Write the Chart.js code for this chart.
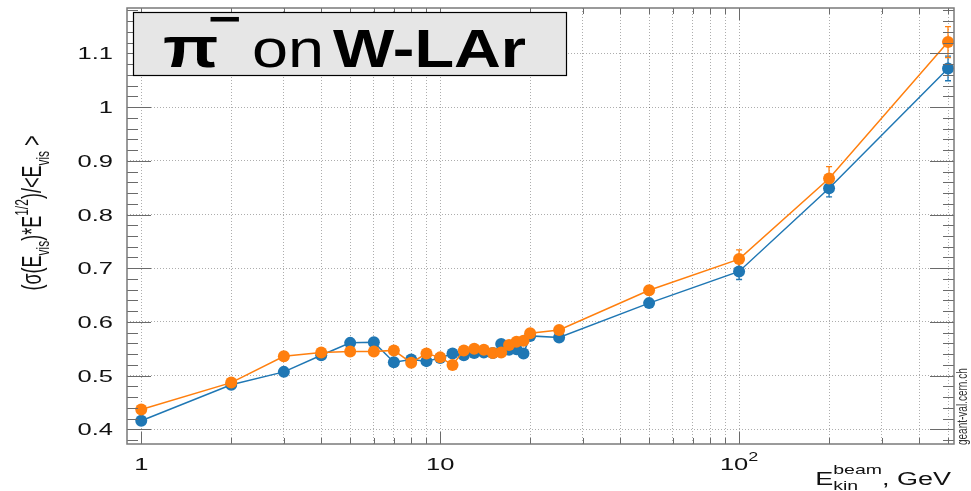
<!DOCTYPE html>
<html>
<head>
<meta charset="utf-8">
<script src="https://cdn.jsdelivr.net/npm/chart.js@4/dist/chart.umd.min.js"></script>
<style>
  html, body { margin: 0; padding: 0; background: #ffffff; }
  #wrap { width: 971px; height: 491px; position: relative; }
</style>
</head>
<body>
<div id="wrap"><canvas id="chart" width="971" height="491"></canvas></div>
<script>
// Beam kinetic energies, GeV
const energies = [1, 2, 3, 4, 5, 6, 7, 8, 9, 10, 11, 12, 13, 14, 15, 16, 17, 18, 19, 20, 25, 50, 100, 200, 500];

// Resolution (sigma(E_vis) * sqrt(E) / <E_vis>) for the two samples
const blueValues   = [0.416, 0.483, 0.507, 0.538, 0.561, 0.562, 0.525, 0.530, 0.527, 0.533,
                      0.541, 0.538, 0.542, 0.543, 0.542, 0.559, 0.548, 0.549, 0.541, 0.574,
                      0.571, 0.635, 0.694, 0.849, 1.072];
const orangeValues = [0.437, 0.487, 0.536, 0.543, 0.545, 0.545, 0.547, 0.524, 0.541, 0.534,
                      0.520, 0.547, 0.550, 0.548, 0.542, 0.543, 0.557, 0.563, 0.565, 0.579,
                      0.585, 0.659, 0.717, 0.867, 1.121];

// Statistical uncertainties
const blueErrors   = [0.004, 0.004, 0.005, 0.004, 0.004, 0.004, 0.004, 0.004, 0.004, 0.004,
                      0.004, 0.004, 0.004, 0.004, 0.004, 0.004, 0.004, 0.004, 0.004, 0.004,
                      0.005, 0.006, 0.015, 0.016, 0.023];
const orangeErrors = [0.004, 0.005, 0.008, 0.005, 0.005, 0.005, 0.005, 0.005, 0.005, 0.005,
                      0.005, 0.005, 0.005, 0.005, 0.005, 0.005, 0.005, 0.005, 0.005, 0.005,
                      0.006, 0.008, 0.017, 0.022, 0.029];

// Axis ticks
const yTickValues = [0.4, 0.5, 0.6, 0.7, 0.8, 0.9, 1.0, 1.1];
const yTickLabels = ['0.4', '0.5', '0.6', '0.7', '0.8', '0.9', '1', '1.1'];
const xGridValues = [1, 2, 3, 4, 5, 6, 7, 8, 9, 10, 20, 30, 40, 50, 60, 70, 80, 90, 100, 200, 300, 400, 500];
const xMajorValues = [1, 10, 100];
const xMajorLabels = [['1', ''], ['10', ''], ['10', '2']];

const BLUE = '#1f77b4';
const ORANGE = '#ff7f0e';
const FONT = '"Liberation Sans", Arial, Helvetica, sans-serif';
const SX = 1.5;          // horizontal text stretch of the canvas

const X_MIN = 0.896, X_MAX = 523.6;
const Y_MIN = 0.3727, Y_MAX = 1.1845;

function fontOf(size, weight) {
  return (weight || 'normal') + ' ' + size + 'px ' + FONT;
}

// Draws a sequence of text runs (with sub/superscripts) from x along the baseline.
function runsWidth(ctx, runs) {
  let w = 0, pending = 0;
  for (const r of runs) {
    ctx.font = fontOf(r.size, r.weight);
    const rw = ctx.measureText(r.text).width;
    if (r.stack) { pending = Math.max(pending, rw); continue; }
    w += Math.max(rw, pending); pending = 0;
  }
  return w + pending;
}
function drawRuns(ctx, runs, x, y) {
  let cx = x, pending = 0;
  ctx.textBaseline = 'alphabetic';
  ctx.textAlign = 'left';
  for (const r of runs) {
    ctx.font = fontOf(r.size, r.weight);
    ctx.fillText(r.text, cx, y + (r.dy || 0));
    const rw = ctx.measureText(r.text).width;
    if (r.stack) { pending = Math.max(pending, rw); continue; }
    cx += Math.max(rw, pending); pending = 0;
  }
}

const errorBars = {
  id: 'errorBars',
  beforeDatasetsDraw(chart) {
    const ctx = chart.ctx, xs = chart.scales.x, ys = chart.scales.y;
    const sets = [[blueValues, blueErrors, BLUE], [orangeValues, orangeErrors, ORANGE]];
    ctx.save();
    ctx.lineWidth = 1.3;
    for (const [vals, errs, col] of sets) {
      ctx.strokeStyle = col;
      vals.forEach((v, i) => {
        const px = xs.getPixelForValue(energies[i]);
        const t = ys.getPixelForValue(v + errs[i]);
        const b = ys.getPixelForValue(v - errs[i]);
        ctx.beginPath();
        ctx.moveTo(px, t); ctx.lineTo(px, b);
        ctx.moveTo(px - 3, t); ctx.lineTo(px + 3, t);
        ctx.moveTo(px - 3, b); ctx.lineTo(px + 3, b);
        ctx.stroke();
      });
    }
    ctx.restore();
  }
};

const frameAndText = {
  id: 'frameAndText',
  afterDraw(chart) {
    const ctx = chart.ctx, a = chart.chartArea;
    const xs = chart.scales.x, ys = chart.scales.y;
    ctx.save();

    // tick marks inside the frame
    ctx.strokeStyle = '#6a6a6a';
    ctx.lineWidth = 1;
    ctx.beginPath();
    for (let k = 19; k <= 59; k++) {
      const v = k / 50;
      if (v < Y_MIN || v > Y_MAX) continue;
      const py = Math.round(ys.getPixelForValue(v)) + 0.5;
      const len = (k % 5 === 0) ? 24 : 11;
      ctx.moveTo(a.left, py); ctx.lineTo(a.left + len, py);
      ctx.moveTo(a.right, py); ctx.lineTo(a.right - len, py);
    }
    for (const v of xGridValues) {
      const px = Math.round(xs.getPixelForValue(v)) + 0.5;
      const len = xMajorValues.includes(v) ? 12 : 6;
      ctx.moveTo(px, a.bottom); ctx.lineTo(px, a.bottom - len);
      ctx.moveTo(px, a.top); ctx.lineTo(px, a.top + len);
    }
    ctx.stroke();

    // frame
    ctx.strokeStyle = '#7a7a7a';
    ctx.lineWidth = 1.5;
    ctx.strokeRect(a.left, a.top, a.right - a.left, a.bottom - a.top);

    ctx.fillStyle = '#111111';

    // y tick labels
    ctx.font = fontOf(17);
    yTickValues.forEach((v, i) => {
      const py = ys.getPixelForValue(v);
      ctx.save();
      ctx.translate(113, py + 6);
      ctx.scale(SX, 1);
      ctx.textAlign = 'right';
      ctx.textBaseline = 'alphabetic';
      ctx.fillText(yTickLabels[i], 0, 0);
      ctx.restore();
    });

    // x tick labels
    xMajorValues.forEach((v, i) => {
      const px = xs.getPixelForValue(v);
      const [base, exp] = xMajorLabels[i];
      const runs = [{ text: base, size: 17 }];
      if (exp) runs.push({ text: exp, size: 12, dy: -9 });
      const w = runsWidth(ctx, runs);
      ctx.save();
      ctx.translate(px, 470);
      ctx.scale(SX, 1);
      drawRuns(ctx, runs, -w / 2, 0);
      ctx.restore();
    });

    // x axis title
    {
      const runs = [
        { text: 'E', size: 18 },
        { text: 'beam', size: 13, dy: -11, stack: true },
        { text: 'kin', size: 13, dy: 5 },
        { text: ', GeV', size: 18 }
      ];
      const w = runsWidth(ctx, runs);
      ctx.save();
      ctx.translate(951, 485);
      ctx.scale(SX, 1);
      drawRuns(ctx, runs, -w, 0);
      ctx.restore();
    }

    // y axis title (rotated)
    {
      const runs = [
        { text: '(\u03c3(E', size: 18 },
        { text: 'vis', size: 12, dy: 5 },
        { text: ')*E', size: 18 },
        { text: '1/2', size: 12, dy: -9 },
        { text: ')/<E', size: 18 },
        { text: 'vis', size: 12, dy: 5 },
        { text: ' >', size: 18 }
      ];
      const w = runsWidth(ctx, runs);
      ctx.save();
      ctx.translate(41, 213);
      ctx.rotate(-Math.PI / 2);
      ctx.scale(1, SX);
      drawRuns(ctx, runs, -w / 2, 0);
      ctx.restore();
    }

    // site tag on the right edge
    {
      ctx.save();
      ctx.fillStyle = '#333333';
      ctx.font = fontOf(10);
      ctx.translate(967, 445);
      ctx.rotate(-Math.PI / 2);
      ctx.scale(1, SX);
      ctx.textAlign = 'left';
      ctx.textBaseline = 'alphabetic';
      ctx.fillText('geant-val.cern.ch', 0, 0);
      ctx.restore();
    }

    // title box
    ctx.fillStyle = '#e6e6e6';
    ctx.fillRect(133, 12, 433, 63);
    ctx.strokeStyle = '#000000';
    ctx.lineWidth = 1.2;
    ctx.strokeRect(133.5, 12.5, 433, 63);

    ctx.fillStyle = '#000000';
    const title = [
      { text: '\u03c0', size: 58, weight: 'bold', x: 163, y: 67, sx: 1.25 },
      { text: '\u2212', size: 42, weight: 'bold', x: 208, y: 33, sx: 1.35 },
      { text: 'on', size: 54, weight: 'normal', x: 252, y: 67, sx: 1.2 },
      { text: 'W-LAr', size: 54, weight: 'bold', x: 333, y: 67, sx: 1.2 }
    ];
    for (const t of title) {
      ctx.save();
      ctx.translate(t.x, t.y);
      ctx.scale(t.sx, 1);
      ctx.font = fontOf(t.size, t.weight);
      ctx.textAlign = 'left';
      ctx.textBaseline = 'alphabetic';
      ctx.fillText(t.text, 0, 0);
      ctx.restore();
    }

    ctx.restore();
  }
};

function series(vals) {
  return energies.map((e, i) => ({ x: e, y: vals[i] }));
}

new Chart(document.getElementById('chart').getContext('2d'), {
  type: 'line',
  data: {
    datasets: [
      {
        label: 'orange',
        data: series(orangeValues),
        borderColor: ORANGE,
        backgroundColor: ORANGE,
        borderWidth: 1.5,
        pointRadius: 6,
        pointBorderWidth: 0,
        tension: 0,
        clip: false,
        order: 0
      },
      {
        label: 'blue',
        data: series(blueValues),
        borderColor: BLUE,
        backgroundColor: BLUE,
        borderWidth: 1.5,
        pointRadius: 6,
        pointBorderWidth: 0,
        tension: 0,
        clip: false,
        order: 1
      }
    ]
  },
  options: {
    responsive: false,
    animation: false,
    devicePixelRatio: 1,
    layout: { padding: { left: 127, right: 17, top: 8, bottom: 47 } },
    plugins: { legend: { display: false }, tooltip: { enabled: false } },
    scales: {
      x: {
        type: 'logarithmic',
        min: X_MIN,
        max: X_MAX,
        afterBuildTicks: s => { s.ticks = xGridValues.map(v => ({ value: v })); },
        ticks: { display: false },
        grid: { color: 'rgba(0,0,0,0.32)', lineWidth: 1, drawTicks: false },
        border: { display: false, dash: [1, 2] }
      },
      y: {
        type: 'linear',
        min: Y_MIN,
        max: Y_MAX,
        afterBuildTicks: s => { s.ticks = yTickValues.map(v => ({ value: v })); },
        ticks: { display: false },
        grid: { color: 'rgba(0,0,0,0.32)', lineWidth: 1, drawTicks: false },
        border: { display: false, dash: [1, 2] }
      }
    }
  },
  plugins: [errorBars, frameAndText]
});
</script>
</body>
</html>
